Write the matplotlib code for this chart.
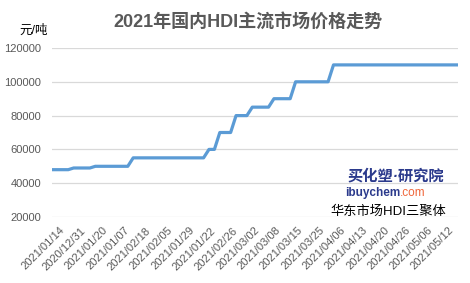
import numpy as np
import matplotlib
matplotlib.use("Agg")
import matplotlib.pyplot as plt
import matplotlib.transforms as mtransforms

plt.rcParams['font.family'] = ['Liberation Sans', 'Noto Sans CJK SC', 'DejaVu Sans']

# price steps (value, number of points)
step_values = [48000, 49000, 50000, 55000, 60000, 70000, 80000, 85000, 90000, 100000, 110000]
step_counts = [4, 4, 7, 14, 2, 3, 3, 4, 4, 7, 24]
prices = np.repeat(step_values, step_counts)

tick_labels = ['2021/01/14', '2020/12/31', '2021/01/20', '2021/01/07', '2021/02/18',
               '2021/02/05', '2021/01/29', '2021/01/22', '2021/02/26', '2021/03/02',
               '2021/03/08', '2021/03/15', '2021/03/25', '2021/04/06', '2021/04/13',
               '2021/04/20', '2021/04/26', '2021/05/06', '2021/05/12']
label_step = 4

fig = plt.figure(figsize=(4.70, 2.83), dpi=100)
ax = fig.add_axes([52/470, 1-217/283, 406/470, 169/283])

x = np.arange(len(prices))
ax.plot(x, prices, color='#5b9bd5', lw=2.3, solid_joinstyle='round')

ax.set_xlim(0, len(prices)-1)
ax.set_ylim(20000, 120000)
ax.set_yticks(np.arange(20000, 120001, 20000))
ax.yaxis.grid(True, color='#d9d9d9', lw=0.9)
ax.set_axisbelow(True)
for s in ax.spines.values():
    s.set_visible(False)
ax.tick_params(axis='both', length=0, colors='#595959', labelsize=8)
ax.tick_params(axis='y', pad=8)

ax.set_xticks(x[::label_step][:len(tick_labels)])
ax.set_xticklabels(tick_labels, rotation=45, ha='right', rotation_mode='anchor', fontsize=8)
ax.tick_params(axis='x', pad=6)
shift = mtransforms.ScaledTranslation(7/100, 0, fig.dpi_scale_trans)
for lab in ax.get_xticklabels():
    lab.set_transform(lab.get_transform() + shift)

fig.text(248/470, 1-22/283, '2021年国内HDI主流市场价格走势', ha='center', va='center',
         fontsize=13, fontweight='bold', color='#595959')
fig.text(34/470, 1-31/283, '元/吨', ha='center', va='center', fontsize=9, color='black')

fig.text(396/470, 1-176/283, '买化塑·研究院', ha='center', va='center', fontsize=11,
         fontweight='bold', style='italic', color='#2b3a8c')
t1 = fig.text(345/470, 1-193/283, 'ibuychem', ha='left', va='center', fontsize=8.5,
              fontweight='bold', color='#2b3a8c')
fig.canvas.draw()
bb = t1.get_window_extent()
fig.text(bb.x1/470, 1-193/283, '.com', ha='left', va='center', fontsize=8.5, color='#f0663a')
fig.text(388/470, 1-212/283, '华东市场HDI三聚体', ha='center', va='center', fontsize=9.5,
         color='black')

fig.savefig('out.png', dpi=100, facecolor='white')
